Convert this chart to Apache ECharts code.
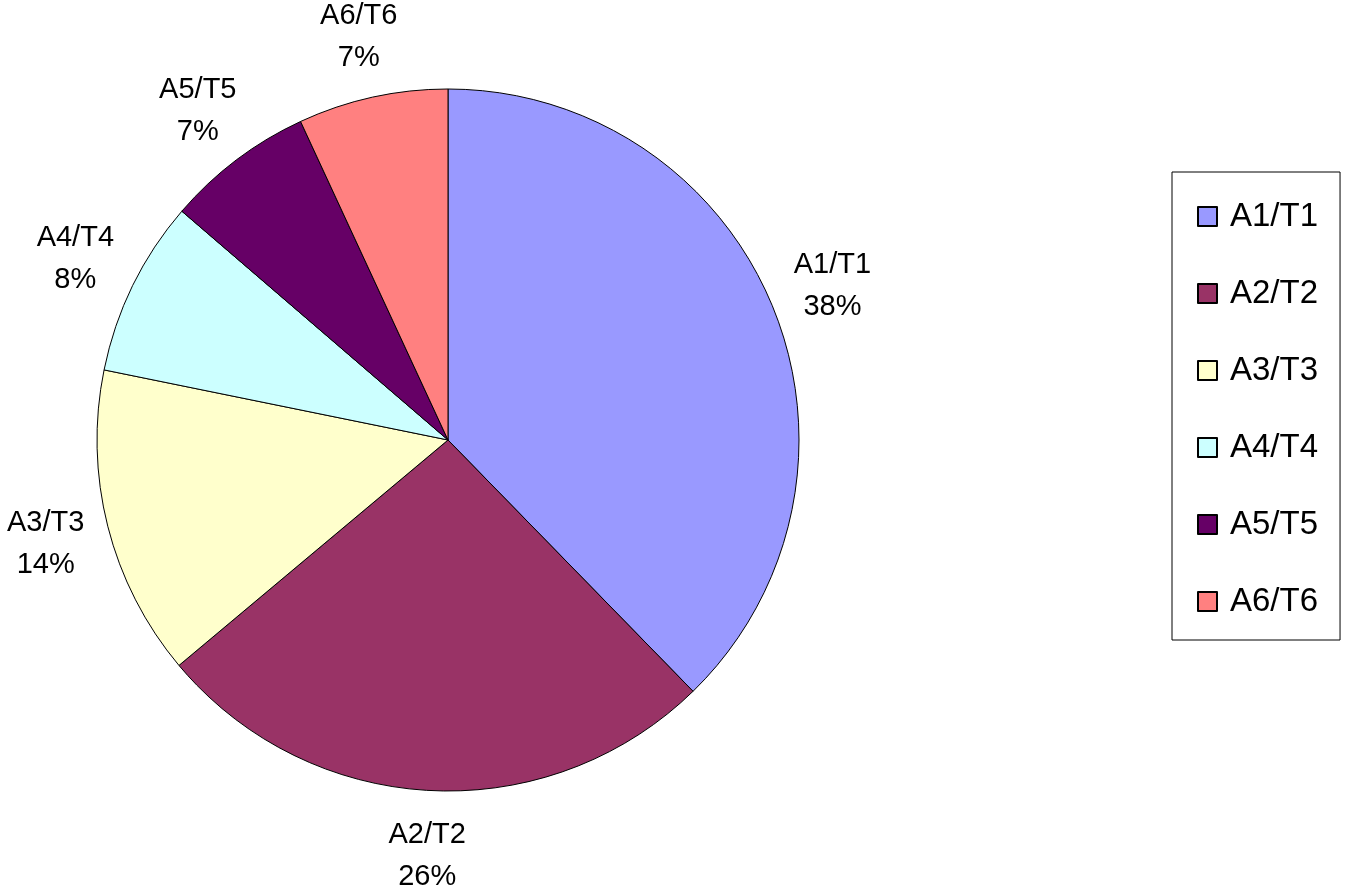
<!DOCTYPE html>
<html>
<head>
<meta charset="utf-8">
<script src="https://cdn.jsdelivr.net/npm/echarts@6/dist/echarts.min.js"></script>
<style>
html,body{margin:0;padding:0;background:#fff;}
#chart{width:1346px;height:887px;}
</style>
</head>
<body>
<div id="chart"></div>
<script>
const categories = ['A1/T1', 'A2/T2', 'A3/T3', 'A4/T4', 'A5/T5', 'A6/T6'];
const values = [37.7, 26.2, 14.3, 8.1, 6.8, 6.9];
const colors = ['#9999FF', '#993366', '#FFFFCC', '#CCFFFF', '#660066', '#FF8080'];

const FONT = '"Liberation Sans", Arial, sans-serif';
const data = categories.map((c, i) => ({ name: c, value: values[i], itemStyle: { color: colors[i] } }));

const chart = echarts.init(document.getElementById('chart'));
chart.setOption({
  backgroundColor: '#ffffff',
  animation: false,
  legend: {
    orient: 'vertical',
    left: 1172,
    top: 172,
    padding: [28, 22, 22, 25],
    borderColor: '#000',
    borderWidth: 1,
    icon: 'rect',
    itemWidth: 19,
    itemHeight: 19,
    itemGap: 44,
    data: categories,
    textStyle: { fontFamily: FONT, fontSize: 33, lineHeight: 33, color: '#000', padding: [0, 0, 0, 8] }
  },
  series: [
    {
      type: 'pie',
      center: [448, 440],
      radius: [0, 351],
      startAngle: 90,
      clockwise: true,
      percentPrecision: 0,
      data: data,
      itemStyle: { borderColor: '#000', borderWidth: 1 },
      label: { show: false },
      labelLine: { show: false },
      emphasis: { disabled: true }
    },
    {
      type: 'pie',
      center: [448, 442],
      radius: [400, 424],
      startAngle: 90,
      clockwise: true,
      percentPrecision: 0,
      silent: true,
      data: categories.map((c, i) => ({ name: c, value: values[i] })),
      itemStyle: { color: 'rgba(0,0,0,0)', borderWidth: 0 },
      label: {
        show: true,
        position: 'inside',
        formatter: '{b}\n{d}%',
        fontFamily: FONT,
        fontSize: 29,
        lineHeight: 42,
        color: '#000',
        align: 'center'
      },
      labelLine: { show: false },
      emphasis: { disabled: true }
    }
  ]
});
</script>
</body>
</html>
